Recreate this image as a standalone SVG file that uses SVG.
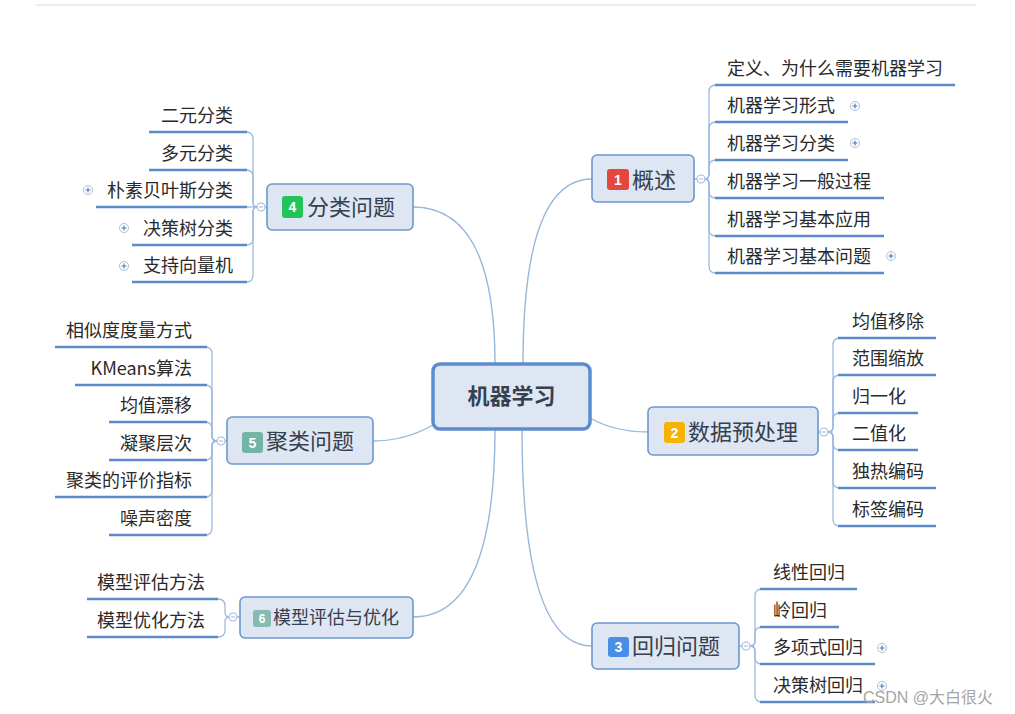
<svg xmlns="http://www.w3.org/2000/svg" width="1015" height="714" viewBox="0 0 1015 714" lang="zh-CN" xml:lang="zh-CN">
<style>
.bg{fill:#ffffff}
.node{fill:#dde6f2;stroke:#6c97cd;stroke-width:1.6}
.center{fill:#dde6f2;stroke:#5b8ccd;stroke-width:3.5}
.ntext{font-family:"Noto Sans CJK SC","Noto Sans",sans-serif;font-size:22px;fill:#36404f}
.ctext{font-family:"Noto Sans CJK SC","Noto Sans",sans-serif;font-size:22px;font-weight:bold;fill:#36404f}
.leaf{font-family:"Noto Sans CJK SC","Liberation Sans",sans-serif;font-size:18px;fill:#2a2a2a}
.leafr{font-family:"Noto Sans CJK SC","Liberation Sans",sans-serif;font-size:18px;fill:#2a2a2a;text-anchor:end}
.badge{font-family:"Liberation Sans",Arial,sans-serif;font-size:14px;font-weight:bold;fill:#ffffff;text-anchor:middle}
.ul{stroke:#5b8bc9;stroke-width:2.5;fill:none}
.conn{stroke:#9dbadd;stroke-width:1.3;fill:none}
.mconn{stroke:#98b6da;stroke-width:1.4;fill:none}
.wm{font-family:"Liberation Sans","Noto Sans CJK SC",sans-serif;font-size:16px;fill:#a5a5a5}
</style>
<defs>
<g id="plus"><circle r="4.5" fill="#ffffff" stroke="#a9c0dc" stroke-width="1"/><path d="M-2.5,0H2.5M0,-2.5V2.5" stroke="#4f78ad" stroke-width="1.1"/></g>
<g id="coll"><circle r="4" fill="#ffffff" stroke="#9dbadd" stroke-width="1.1"/><path d="M-2,0H2" stroke="#9dbadd" stroke-width="1"/></g>
</defs>
<rect class="bg" x="0" y="0" width="1015" height="714"/>
<line x1="36" y1="5" x2="976" y2="5" stroke="#ececec" stroke-width="2"/>

<g id="connectors">
<path class="mconn" d="M523,364 Q523,179 592,179"/>
<path class="mconn" d="M495,364 Q495,207 413,207"/>
<path class="mconn" d="M433,425 Q405,441 373,441"/>
<path class="mconn" d="M590,418 Q615,432 648,432"/>
<path class="mconn" d="M495,429 Q495,617 413,617"/>
<path class="mconn" d="M522,429 Q522,646 592,646"/>
<path class="conn" d="M694,179H697M818,432H820M739,646H742M267,207H265M227,441H225M240,617H237"/>
<path class="conn" d="M705,179 Q709,179 709,174 L709,92 Q709,85 716,85"/>
<path class="conn" d="M705,179 Q709,179 709,174 L709,129 Q709,122 716,122"/>
<path class="conn" d="M705,179 Q709,179 709,174 L709,167 Q709,160 716,160"/>
<path class="conn" d="M705,179 Q709,179 709,184 L709,191 Q709,198 716,198"/>
<path class="conn" d="M705,179 Q709,179 709,184 L709,229 Q709,236 716,236"/>
<path class="conn" d="M705,179 Q709,179 709,184 L709,266 Q709,273 716,273"/>
<path class="conn" d="M828,432 Q833,432 833,427 L833,345 Q833,338 840,338"/>
<path class="conn" d="M828,432 Q833,432 833,427 L833,382 Q833,375 840,375"/>
<path class="conn" d="M828,432 Q833,432 833,427 L833,420 Q833,413 840,413"/>
<path class="conn" d="M828,432 Q833,432 833,437 L833,443 Q833,450 840,450"/>
<path class="conn" d="M828,432 Q833,432 833,437 L833,481 Q833,488 840,488"/>
<path class="conn" d="M828,432 Q833,432 833,437 L833,519 Q833,526 840,526"/>
<path class="conn" d="M750,646 Q755,646 755,641 L755,596 Q755,589 762,589"/>
<path class="conn" d="M750,646 Q755,646 755,641 L755,634 Q755,627 762,627"/>
<path class="conn" d="M750,646 Q755,646 755,651 L755,657 Q755,664 762,664"/>
<path class="conn" d="M750,646 Q755,646 755,651 L755,695 Q755,702 762,702"/>
<path class="conn" d="M257,207 Q253,207 253,202 L253,139 Q253,132 246,132"/>
<path class="conn" d="M257,207 Q253,207 253,202 L253,177 Q253,170 246,170"/>
<path class="conn" d="M257,207 L246,207"/>
<path class="conn" d="M257,207 Q253,207 253,212 L253,238 Q253,245 246,245"/>
<path class="conn" d="M257,207 Q253,207 253,212 L253,275 Q253,282 246,282"/>
<path class="conn" d="M217,441 Q212,441 212,436 L212,354 Q212,347 205,347"/>
<path class="conn" d="M217,441 Q212,441 212,436 L212,392 Q212,385 205,385"/>
<path class="conn" d="M217,441 Q212,441 212,436 L212,429 Q212,422 205,422"/>
<path class="conn" d="M217,441 Q212,441 212,446 L212,453 Q212,460 205,460"/>
<path class="conn" d="M217,441 Q212,441 212,446 L212,490 Q212,497 205,497"/>
<path class="conn" d="M217,441 Q212,441 212,446 L212,528 Q212,535 205,535"/>
<path class="conn" d="M229,617 Q225,617 225,612 L225,606 Q225,599 218,599"/>
<path class="conn" d="M229,617 Q225,617 225,622 L225,630 Q225,637 218,637"/>
</g>

<g id="center">
<rect class="center" x="433" y="364" width="157" height="65" rx="7"/>
<text class="ctext" x="511.5" y="404" text-anchor="middle">机器学习</text>
</g>

<g id="n1">
<rect class="node" x="592" y="155" width="102" height="47" rx="5"/>
<rect x="607" y="169" width="22" height="21" rx="3" fill="#e5463e"/>
<text class="badge" x="618" y="184.5">1</text>
<text class="ntext" x="632" y="188">概述</text>
<use href="#coll" x="701" y="179"/>
</g>
<g id="n1-leaves">
<text class="leaf" x="727" y="75">定义、为什么需要机器学习</text><path class="ul" d="M715,85H955"/>
<text class="leaf" x="727" y="112">机器学习形式</text><path class="ul" d="M715,122H848"/><use href="#plus" x="855" y="106"/>
<text class="leaf" x="727" y="150">机器学习分类</text><path class="ul" d="M715,160H848"/><use href="#plus" x="855" y="143"/>
<text class="leaf" x="727" y="188">机器学习一般过程</text><path class="ul" d="M715,198H884"/>
<text class="leaf" x="727" y="226">机器学习基本应用</text><path class="ul" d="M715,236H884"/>
<text class="leaf" x="727" y="263">机器学习基本问题</text><path class="ul" d="M715,273H884"/><use href="#plus" x="891" y="256"/>
</g>

<g id="n2">
<rect class="node" x="648" y="407" width="170" height="48" rx="5"/>
<rect x="664" y="422" width="21" height="21" rx="3" fill="#f6b400"/>
<text class="badge" x="674.5" y="437.5">2</text>
<text class="ntext" x="688" y="440">数据预处理</text>
<use href="#coll" x="824" y="432"/>
</g>
<g id="n2-leaves">
<text class="leaf" x="852" y="328">均值移除</text><path class="ul" d="M838,338H936"/>
<text class="leaf" x="852" y="365">范围缩放</text><path class="ul" d="M838,375H936"/>
<text class="leaf" x="852" y="403">归一化</text><path class="ul" d="M838,413H918"/>
<text class="leaf" x="852" y="440">二值化</text><path class="ul" d="M838,450H918"/>
<text class="leaf" x="852" y="478">独热编码</text><path class="ul" d="M838,488H936"/>
<text class="leaf" x="852" y="516">标签编码</text><path class="ul" d="M838,526H936"/>
</g>

<g id="n3">
<rect class="node" x="592" y="623" width="147" height="46" rx="5"/>
<rect x="608" y="637" width="21" height="20" rx="3" fill="#4a8fe7"/>
<text class="badge" x="618.5" y="652">3</text>
<text class="ntext" x="632" y="654">回归问题</text>
<use href="#coll" x="746" y="646"/>
</g>
<g id="n3-leaves">
<text class="leaf" x="773" y="579">线性回归</text><path class="ul" d="M760,589H857"/>
<text class="leaf" x="773" y="617" lang="zh-CN">岭回归</text><path class="ul" d="M760,627H839"/>
<text class="leaf" x="773" y="654">多项式回归</text><path class="ul" d="M760,664H875"/><use href="#plus" x="882" y="648"/>
<text class="leaf" x="773" y="692">决策树回归</text><path class="ul" d="M760,702H875"/><use href="#plus" x="882" y="686"/>
</g>

<g id="n4">
<rect class="node" x="267" y="184" width="146" height="46" rx="5"/>
<rect x="282" y="196" width="21" height="22" rx="3" fill="#22c35b"/>
<text class="badge" x="292.5" y="212">4</text>
<text class="ntext" x="307" y="215">分类问题</text>
<use href="#coll" x="261" y="207"/>
</g>
<g id="n4-leaves">
<text class="leafr" x="233" y="122">二元分类</text><path class="ul" d="M149,132H247"/>
<text class="leafr" x="233" y="160">多元分类</text><path class="ul" d="M149,170H247"/>
<text class="leafr" x="233" y="197">朴素贝叶斯分类</text><path class="ul" d="M96,207H247"/><use href="#plus" x="88" y="190"/>
<text class="leafr" x="233" y="235">决策树分类</text><path class="ul" d="M132,245H247"/><use href="#plus" x="124" y="228"/>
<text class="leafr" x="233" y="272">支持向量机</text><path class="ul" d="M132,282H247"/><use href="#plus" x="124" y="266"/>
</g>

<g id="n5">
<rect class="node" x="227" y="417" width="146" height="47" rx="5"/>
<rect x="242" y="432" width="21" height="21" rx="3" fill="#72b4a6"/>
<text class="badge" x="252.5" y="447.5">5</text>
<text class="ntext" x="266" y="449">聚类问题</text>
<use href="#coll" x="221" y="441"/>
</g>
<g id="n5-leaves">
<text class="leafr" x="192" y="337">相似度度量方式</text><path class="ul" d="M55,347H207"/>
<text class="leafr" x="192" y="375">KMeans算法</text><path class="ul" d="M75,385H207"/>
<text class="leafr" x="192" y="412">均值漂移</text><path class="ul" d="M109,422H207"/>
<text class="leafr" x="192" y="450">凝聚层次</text><path class="ul" d="M109,460H207"/>
<text class="leafr" x="192" y="487">聚类的评价指标</text><path class="ul" d="M55,497H207"/>
<text class="leafr" x="192" y="525">噪声密度</text><path class="ul" d="M109,535H207"/>
</g>

<g id="n6">
<rect class="node" x="240" y="597" width="173" height="41" rx="5"/>
<rect x="253" y="610" width="18" height="17" rx="3" fill="#86bcb0"/>
<text class="badge" x="262" y="623" style="font-size:12px">6</text>
<text class="ntext" x="273" y="624" style="font-size:18px">模型评估与优化</text>
<use href="#coll" x="233" y="617"/>
</g>
<g id="n6-leaves">
<text class="leafr" x="205" y="589">模型评估方法</text><path class="ul" d="M87,599H218"/>
<text class="leafr" x="205" y="627">模型优化方法</text><path class="ul" d="M87,637H218"/>
</g>

<text class="wm" x="863" y="703">CSDN @大白很火</text>
</svg>
